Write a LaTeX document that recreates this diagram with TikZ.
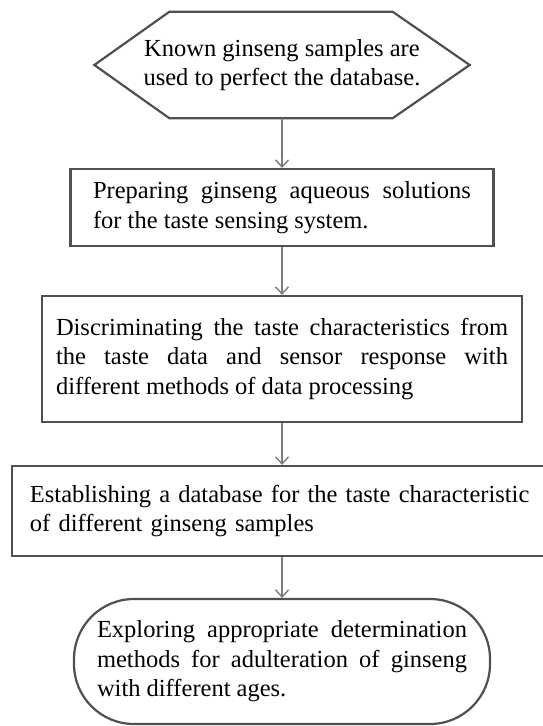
\documentclass[tikz,border=0pt]{standalone}
\usepackage{fontspec}
\setmainfont{Liberation Serif}
\usetikzlibrary{arrows.meta}

\definecolor{boxgray}{RGB}{80,80,80}
\definecolor{arrowgray}{RGB}{125,125,125}

\tikzset{
  stepbox/.style={draw=boxgray,line width=2.2pt,fill=white,align=justify,
    font=\fontsize{24.5}{29.5}\selectfont},
  flow/.style={draw=arrowgray,line width=1.4pt,-{Straight Barb[length=7pt,width=13pt]}}
}

\begin{document}
\begin{tikzpicture}[x=1pt,y=-1pt]
  \useasboundingbox (0,0) rectangle (543,726);
  \clip (0,0) rectangle (543,726);

  % hexagon start
  \node (known) at (282,65) [minimum width=375pt,minimum height=106pt,align=center,
    font=\fontsize{24.5}{29.5}\selectfont] {Known ginseng samples are\\used to perfect the database.};
  \draw[draw=boxgray,line width=2.2pt,line join=miter]
    ([xshift=75pt]known.north west) -- ([xshift=-77pt]known.north east) -- (known.east)
    -- ([xshift=-77pt]known.south east) -- ([xshift=75pt]known.south west) -- (known.west) -- cycle;

  \node[stepbox,text width=378pt,inner xsep=22.5pt,minimum height=77pt] (prep) at (282,207.5)
    {Preparing ginseng aqueous solutions\linebreak for the taste sensing system.};
  \node[stepbox,text width=452pt,inner xsep=14pt,minimum height=126pt] (discr) at (282,359)
    {Discriminating the taste characteristics from\linebreak the taste data and sensor response with\linebreak different methods of data processing\par\vspace{8pt}};
  % box runs past the right margin
  \node[stepbox,text width=520pt,inner xsep=18pt,minimum height=90pt,align=left] (estab) at (290,511)
    {Establishing a database for the taste characteristic\\of different ginseng samples\par\vspace{14pt}};
  \node[stepbox,text width=370pt,inner xsep=23pt,minimum height=125pt,rounded corners=60pt] (explore) at (282,661.5)
    {Exploring appropriate determination\linebreak methods for adulteration of ginseng\linebreak with different ages.};

  \foreach \from/\to in {known/prep,prep/discr,discr/estab,estab/explore}
    \draw[flow] (\from.south -| known.south) -- (\to.north -| known.south);

\end{tikzpicture}
\end{document}
